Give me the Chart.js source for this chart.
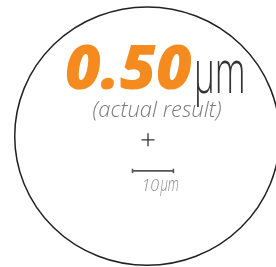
<!DOCTYPE html>
<html>
<head>
<meta charset="utf-8">
<script src="https://cdn.jsdelivr.net/npm/chart.js@4/dist/chart.umd.min.js"></script>
<style>
  html, body { margin: 0; padding: 0; background: #fff; }
  #wrap { width: 276px; height: 267px; }
</style>
</head>
<body>
<div id="wrap"><canvas id="myChart" width="276" height="267"></canvas></div>
<script>
// values (all in µm)
const resultValue = [0.50];
const resultUnit = ['µm'];
const captionText = ['(actual result)'];
const ringCenter = [0, 0];
const ringRadius = [32.4, 31.6];   // horizontal, vertical
const crossMark = [0.2, -0.9];
const scaleBarX = [-3.6, 6.4];
const scaleBarY = [-8.5, -8.5];
const scaleBarLabel = ['10', 'µm'];

// text squeezed sideways, like the condensed unit glyph
function narrowText(c, text, x, y, sx) {
    c.save();
    c.translate(x, y);
    c.scale(sx, 1);
    c.fillText(text, 0, 0);
    c.restore();
}

const ringPlugin = {
    id: 'ring',
    beforeDatasetsDraw(chart) {
        const xs = chart.scales.x, ys = chart.scales.y, c = chart.ctx;
        const cx = xs.getPixelForValue(ringCenter[0]);
        const cy = ys.getPixelForValue(ringCenter[1]);
        const rx = xs.getPixelForValue(ringCenter[0] + ringRadius[0]) - cx;
        const ry = cy - ys.getPixelForValue(ringCenter[1] + ringRadius[1]);
        c.save();
        c.beginPath();
        c.ellipse(cx, cy, rx, ry, 0, 0, Math.PI * 2);
        c.lineWidth = 1.5;
        c.strokeStyle = '#222';
        c.stroke();
        c.restore();
    }
};

const textPlugin = {
    id: 'texts',
    afterDatasetsDraw(chart) {
        const c = chart.ctx;
        const xs = chart.scales.x, ys = chart.scales.y;
        c.save();
        c.textBaseline = 'alphabetic';
        c.textAlign = 'left';

        // big result
        c.fillStyle = '#f58a1f';
        c.font = 'italic 800 62px "Open Sans"';
        c.fillText(resultValue[0].toFixed(2), 65, 89);

        c.fillStyle = '#333';
        c.font = '300 60px "Open Sans"';
        narrowText(c, resultUnit[0], 194, 93, 0.58);

        c.fillStyle = '#7a7a7a';
        c.font = 'italic 300 22px "Open Sans"';
        c.textAlign = 'center';
        c.fillText(captionText[0], 157, 117);

        // label under the scale bar
        const left = xs.getPixelForValue(scaleBarX[0]);
        const base = ys.getPixelForValue(scaleBarY[0]) + 20;
        c.textAlign = 'left';
        c.fillStyle = '#8a8a8a';
        c.font = 'italic 300 16px "Open Sans"';
        c.fillText(scaleBarLabel[0], left + 9, base);
        c.font = 'italic 300 21px "Open Sans"';
        narrowText(c, scaleBarLabel[1], left + 28, base, 0.62);
        c.restore();
    }
};

new Chart(document.getElementById('myChart'), {
    type: 'scatter',
    data: {
        datasets: [{
            label: 'centre',
            data: [{ x: crossMark[0], y: crossMark[1] }],
            pointStyle: 'cross',
            pointRadius: 6.5,
            borderWidth: 1.3,
            borderColor: '#333'
        }, {
            type: 'line',
            label: 'scale bar',
            data: scaleBarX.map((x, i) => ({ x: x, y: scaleBarY[i] })),
            borderColor: '#555',
            borderWidth: 1.6,
            pointStyle: 'line',
            rotation: 90,
            pointRadius: 2.2,
            pointBorderWidth: 1.6,
            pointBorderColor: '#555'
        }]
    },
    options: {
        responsive: false,
        animation: false,
        devicePixelRatio: 1,
        layout: { padding: 0, autoPadding: false },
        plugins: { legend: { display: false }, tooltip: { enabled: false } },
        scales: {
            x: { type: 'linear', min: -36, max: 31.5, display: false },
            y: { type: 'linear', min: -32, max: 33.3, display: false }
        }
    },
    plugins: [ringPlugin, textPlugin]
});
</script>
</body>
</html>
